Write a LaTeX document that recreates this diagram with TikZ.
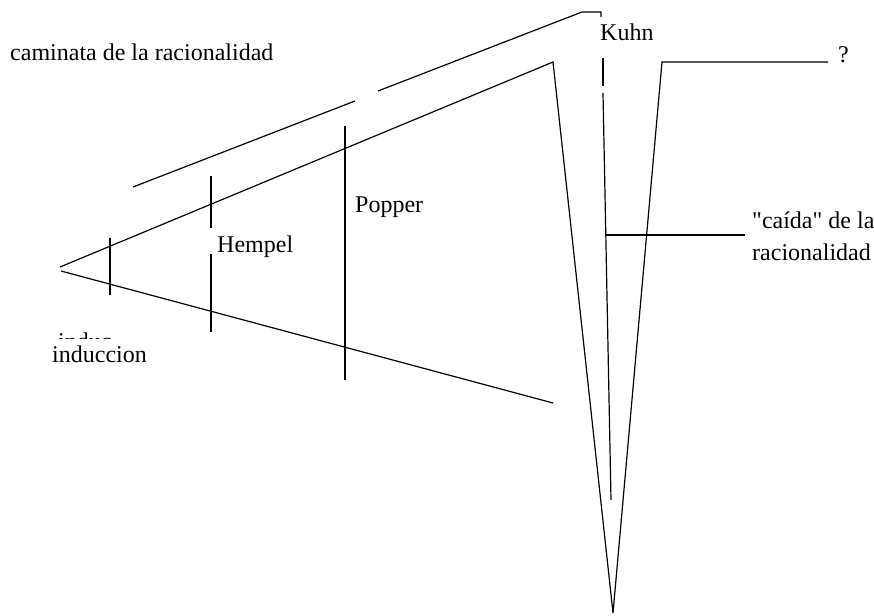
\documentclass[tikz,border=0pt]{standalone}
\usepackage{fontspec}
\setmainfont{Liberation Serif}
\usepackage{tikz}
\usetikzlibrary{positioning}

\begin{document}
\begin{tikzpicture}[
  x=1pt, y=-1pt,
  ln/.style={line width=1.2pt, line cap=butt},
  lbl/.style={font=\fontsize{24}{29}\selectfont, anchor=base west, inner sep=0pt}
]
\useasboundingbox (0,0) rectangle (874,615);
% cone of rationality
\coordinate (apexU) at (60,267);
\coordinate (apexL) at (61,271);
\coordinate (coneU) at (553,62);
\coordinate (coneL) at (553,403);
\coordinate (tip) at (613,613);
\coordinate (vR) at (662,62);
\coordinate (qEnd) at (828,62);
% walking line above
\coordinate (rimA) at (133,187);
\coordinate (rimB) at (355,101);
\coordinate (rimC) at (378,91);
\coordinate (rimD) at (582,12);
\coordinate (rimE) at (601,12);
\coordinate (rimF) at (601,17);
% Kuhn axis
\coordinate (axA) at (603,58);
\coordinate (axB) at (603,86);
\coordinate (axC) at (603,93);
\coordinate (axD) at (611,500);
\coordinate (fallA) at (606,235);
\coordinate (fallB) at (745,235);
% ticks
\coordinate (t1a) at (110,238); \coordinate (t1b) at (110,295);
\coordinate (t2a) at (211,176); \coordinate (t2b) at (211,228);
\coordinate (t3a) at (211,254); \coordinate (t3b) at (211,332);
\coordinate (t4a) at (345,126); \coordinate (t4b) at (345,380);

\draw[ln] (rimA) -- (rimB);
\draw[ln] (rimC) -- (rimD) -- (rimE) -- (rimF);
\draw[ln] (apexU) -- (coneU) -- (tip) -- (vR) -- (qEnd);
\draw[ln] (apexL) -- (coneL);
\draw[ln] (axA) -- (axB);
\draw[ln] (axC) -- (axD);
\draw[ln] (fallA) -- (fallB);
\foreach \t in {1,...,4}
  \draw[ln] (t\t a) -- (t\t b);

% labels
\node[lbl] (walk) at (10,61) {caminata de la racionalidad};
\node[lbl] (popper) at (355,212) {Popper};
\node[lbl] (hempel) at (217,252) {Hempel};
\begin{scope}
  \clip (40,320) rectangle (130,338);
  \node[lbl] (induc) at (58,349) {induc};
\end{scope}
\node[lbl] (induccion) at (52,362) {induccion};
\node[lbl] (kuhn) at (600,41) {Kuhn};
\node[lbl] (quest) at (838,63) {?};
\node[lbl] (fall1) at (752,228) {\textquotedbl caída\textquotedbl{} de la};
\node[lbl] (fall2) at (752,260) {racionalidad};
\end{tikzpicture}
\end{document}
